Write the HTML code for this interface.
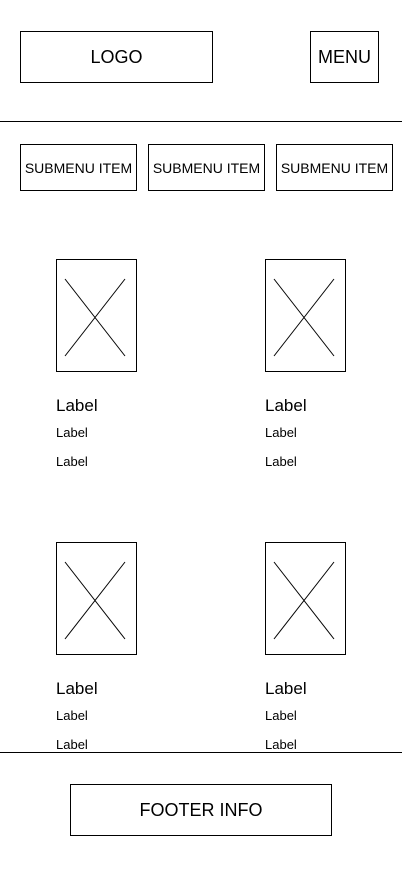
<!DOCTYPE html>
<html><head><meta charset="utf-8"><style>
*{margin:0;padding:0;box-sizing:border-box}
body{width:402px;height:874px;background:#fff;position:relative;overflow:hidden;font-family:"Liberation Sans",sans-serif;color:#000}
.b{position:absolute;border:1px solid #000;display:flex;align-items:center;justify-content:center}
.l{position:absolute;left:0;width:402px;height:1px;background:#000}
.t{position:absolute;white-space:nowrap}
svg{position:absolute}
</style></head><body>
<div class="b" style="left:20px;top:31px;width:193px;height:52px;font-size:18px">LOGO</div>
<div class="b" style="left:310px;top:31px;width:69px;height:52px;font-size:18px">MENU</div>
<div class="l" style="top:121px"></div>
<div class="b" style="left:20px;top:144px;width:117px;height:47px;font-size:14px">SUBMENU ITEM</div>
<div class="b" style="left:148px;top:144px;width:117px;height:47px;font-size:14px">SUBMENU ITEM</div>
<div class="b" style="left:276px;top:144px;width:117px;height:47px;font-size:14px">SUBMENU ITEM</div>
<div id="cards"></div>
<div class="l" style="top:752px"></div>
<div class="b" style="left:70px;top:784px;width:262px;height:52px;font-size:18px">FOOTER INFO</div>
<script>
const xs=[56,265], ys=[259,542];
let i=0;
for(const y of ys)for(const x of xs){i++;
 const c=document.createElement('div');
 
 
 c.innerHTML=`<svg width="81" height="113" style="left:${x}px;top:${y}px"><rect x="0.5" y="0.5" width="80" height="112" fill="none" stroke="#000"/><line x1="9" y1="20" x2="69" y2="97" stroke="#000"/><line x1="69" y1="20" x2="9" y2="97" stroke="#000"/></svg>
 <div class="t" style="left:${x}px;top:${y+137}px;font-size:17px">Label</div>
 <div class="t" style="left:${x}px;top:${y+166}px;font-size:13px">Label</div>
 <div class="t" style="left:${x}px;top:${y+195}px;font-size:13px">Label</div>`;
 document.getElementById('cards').appendChild(c);}
</script>
</body></html>
